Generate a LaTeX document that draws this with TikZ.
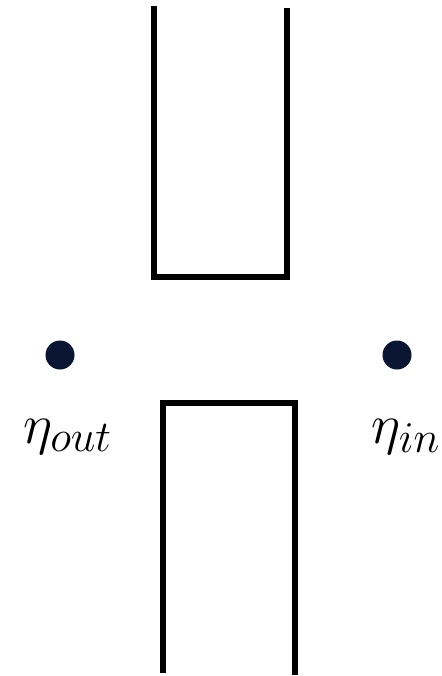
\documentclass[tikz,border=0pt]{standalone}
\usepackage{fix-cm}
\DeclareMathSizes{56}{56}{44}{36}
\definecolor{dotnavy}{HTML}{0A1433}
\begin{document}
\begin{tikzpicture}[x=1pt,y=-1pt,
  wall/.style={line width=5.5pt,line join=miter,black},
  port/.style={circle,fill=dotnavy,inner sep=0pt,minimum size=29pt},
  tag/.style={inner sep=0pt,font=\fontsize{56}{64}\selectfont}]
  \useasboundingbox (0,0) rectangle (441,676);
  % upper channel, open at the top
  \draw[wall] (154,6) -- (154,277) -- (287,277) -- (287,8);
  % lower channel, open at the bottom
  \draw[wall] (163,673) -- (163,403) -- (295,403) -- (295,675);
  % ports
  \node[port] (out) at (60,355) {};
  \node[port] (in) at (397,355) {};
  \node[tag,anchor=base west] (outlbl) at (23,443) {$\eta_{out}$};
  \node[tag,anchor=base east] (inlbl) at (440,443) {$\eta_{in}$};
\end{tikzpicture}
\end{document}
